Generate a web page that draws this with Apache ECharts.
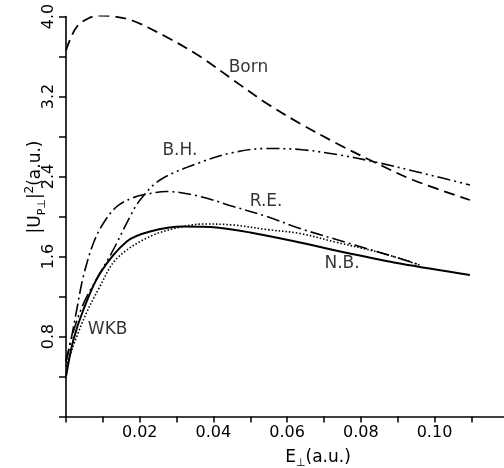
<!DOCTYPE html>
<html>
<head>
<meta charset="utf-8">
<script src="https://cdn.jsdelivr.net/npm/echarts@6/dist/echarts.min.js"></script>
<style>html,body{margin:0;padding:0;background:#fff}#c{width:504px;height:468px}</style>
</head>
<body>
<div id="c"></div>
<script>
// Born (dashed)
const bornX = [0, 0.001, 0.003, 0.006, 0.0092, 0.013, 0.018, 0.027, 0.0364, 0.0454, 0.0545, 0.0635, 0.0735, 0.0833, 0.0942, 0.1096];
const bornY = [3.66, 3.76, 3.90, 3.98, 4.01, 4.0, 3.96, 3.80, 3.60, 3.365, 3.13, 2.93, 2.73, 2.55, 2.365, 2.165];
// B.H. (dash-dot-dot)
const bhX = [0, 0.002, 0.005, 0.0092, 0.0128, 0.0174, 0.0201, 0.0255, 0.0364, 0.0454, 0.0545, 0.0635, 0.0735, 0.0833, 0.096, 0.1096];
const bhY = [0.55, 0.85, 1.15, 1.43, 1.665, 2.0, 2.165, 2.365, 2.54, 2.64, 2.68, 2.67, 2.62, 2.55, 2.44, 2.315];
// R.E. (dash-dot)
const reX = [0, 0.001, 0.0029, 0.0047, 0.0074, 0.0101, 0.0138, 0.0183, 0.0228, 0.0273, 0.0364, 0.0454, 0.0545, 0.0635, 0.077, 0.0906, 0.096];
const reY = [0.55, 0.70, 1.065, 1.40, 1.73, 1.93, 2.10, 2.19, 2.23, 2.25, 2.20, 2.10, 2.00, 1.88, 1.73, 1.58, 1.515];
// N.B. (solid)
const nbX = [0, 0.002, 0.0047, 0.0092, 0.0165, 0.0228, 0.0318, 0.0409, 0.05, 0.0635, 0.077, 0.0906, 0.1096];
const nbY = [0.40, 0.765, 1.065, 1.43, 1.75, 1.85, 1.90, 1.89, 1.84, 1.74, 1.63, 1.53, 1.415];
// WKB (dotted)
const wkbX = [0, 0.0047, 0.0092, 0.0138, 0.0228, 0.0318, 0.0373, 0.0454, 0.0545, 0.0635, 0.0725, 0.0861, 0.096];
const wkbY = [0.50, 0.965, 1.30, 1.58, 1.80, 1.90, 1.925, 1.915, 1.87, 1.83, 1.75, 1.63, 1.515];
// curve labels
const labelNames = ['Born', 'B.H.', 'R.E.', 'N.B.', 'WKB'];
const labelX = [0.0495, 0.0309, 0.0543, 0.0749, 0.0113];
const labelY = [3.485, 2.66, 2.15, 1.53, 0.865];
// axis ticks
const xTickLabels = ['0.02', '0.04', '0.06', '0.08', '0.10'];
const yTickLabels = ['0.8', '1.6', '2.4', '3.2', '4.0'];

const zip = (xs, ys) => xs.map((x, i) => [x, ys[i]]);
const FONT = 'DejaVu Sans';
const INK = '#000';

const chart = echarts.init(document.getElementById('c'), null, {renderer: 'canvas'});
const lineSeries = (data, type, w) => ({
  type: 'line', data, smooth: 0.35, showSymbol: false, symbol: 'none',
  lineStyle: {color: INK, width: w, type: type}, z: 3
});

chart.setOption({
  animation: false,
  backgroundColor: '#fff',
  grid: {left: 66, top: 16.5, bottom: 51.5, right: -4.2, containLabel: false, outerBoundsMode: 'none'},
  xAxis: {
    type: 'value', min: 0, max: 0.12, interval: 0.01,
    splitLine: {show: false},
    axisLine: {lineStyle: {color: INK, width: 1.6}},
    axisTick: {show: true, inside: false, length: 6, lineStyle: {color: INK, width: 1.5}},
    axisLabel: {
      margin: 8, color: INK, fontFamily: FONT, fontSize: 16,
      formatter: v => { const s = v.toFixed(2); return xTickLabels.includes(s) ? s : ''; }
    }
  },
  yAxis: {
    type: 'value', min: 0, max: 4.0, interval: 0.4,
    splitLine: {show: false},
    axisLine: {lineStyle: {color: INK, width: 1.6}},
    axisTick: {show: true, inside: false, length: 7, lineStyle: {color: INK, width: 1.5}},
    axisLabel: {
      rotate: 90, margin: 9, color: INK, fontFamily: FONT, fontSize: 16,
      formatter: v => { const s = v.toFixed(1); return yTickLabels.includes(s) ? s : ''; }
    }
  },
  series: [
    lineSeries(zip(bornX, bornY), [11, 6], 1.8),
    lineSeries(zip(bhX, bhY), [13, 4, 2, 4, 2, 4], 1.6),
    lineSeries(zip(reX, reY), [13, 4, 2, 4], 1.6),
    lineSeries(zip(nbX, nbY), 'solid', 2),
    lineSeries(zip(wkbX, wkbY), [1.5, 2], 1.6),
    {
      type: 'scatter', symbolSize: 0, z: 5,
      data: labelNames.map((n, i) => ({name: n, value: [labelX[i], labelY[i]]})),
      label: {show: true, position: 'inside', formatter: p => p.name, color: INK, fontFamily: FONT, fontSize: 17}
    }
  ],
  graphic: [
    {
      type: 'text', x: 36, y: 187, rotation: Math.PI / 2,
      style: {
        text: '{m||U}{s|P⊥}{m||}{p|2}{m|(a.u.)}',
        align: 'center', verticalAlign: 'middle',
        fill: INK, font: '17px "DejaVu Sans"',
        rich: {
          m: {fontSize: 17, fontFamily: FONT, lineHeight: 24, color: INK},
          s: {fontSize: 11, fontFamily: FONT, lineHeight: 12, verticalAlign: 'bottom', color: INK},
          p: {fontSize: 12, fontFamily: FONT, lineHeight: 12, verticalAlign: 'top', color: INK}
        }
      }
    },
    {
      type: 'text', x: 318, y: 458,
      style: {
        text: '{m|E}{s|⊥}{m|(a.u.)}',
        align: 'center', verticalAlign: 'middle',
        fill: INK, font: '17px "DejaVu Sans"',
        rich: {
          m: {fontSize: 17, fontFamily: FONT, lineHeight: 22, color: INK},
          s: {fontSize: 11, fontFamily: FONT, lineHeight: 12, verticalAlign: 'bottom', color: INK}
        }
      }
    }
  ]
});
</script>
</body>
</html>
